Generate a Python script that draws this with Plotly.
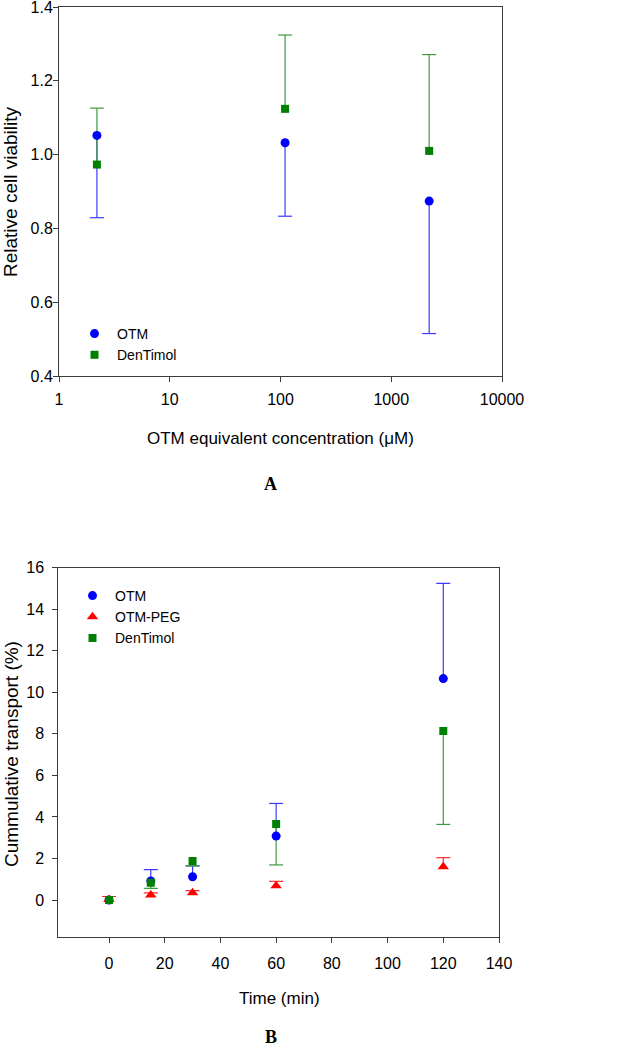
import plotly.graph_objects as go

# ---------------- Panel A data ----------------
conc = [2.2, 110, 2200]
otm_a = [1.052, 1.032, 0.874]
otm_a_err_minus = [0.223, 0.199, 0.359]
den_a = [0.973, 1.124, 1.010]
den_a_err_plus = [0.153, 0.200, 0.261]
xticks_a = [1, 10, 100, 1000, 10000]
yticks_a = [0.4, 0.6, 0.8, 1.0, 1.2, 1.4]

# ---------------- Panel B data ----------------
time_min = [0, 15, 30, 60, 120]
otm_b = [0.0, 0.92, 1.12, 3.08, 10.66]
otm_b_err_plus = [0.0, 0.54, 0.52, 1.57, 4.59]
peg_b = [0.02, 0.24, 0.35, 0.69, 1.60]
peg_b_err_plus = [0.15, 0.10, 0.10, 0.21, 0.44]
den_b = [0.0, 0.83, 1.88, 3.66, 8.14]
den_b_err_minus = [0.0, 0.27, 0.24, 1.97, 4.50]
xticks_b = [0, 20, 40, 60, 80, 100, 120, 140]
yticks_b = [0, 2, 4, 6, 8, 10, 12, 14, 16]

BLUE, GREEN, RED = "#0000ff", "#008000", "#ff0000"
BLUE_E, GREEN_E, RED_E = "#3b3bff", "#3d9a3d", "#ff2a2a"
SANS = "Liberation Sans, Arial, sans-serif"
SERIF = "Liberation Serif, Times New Roman, serif"
FRAME = "#3a3a3a"


def stems(xs, ys, errs, sign):
    lx, ly, cx, cy = [], [], [], []
    for x, y, e in zip(xs, ys, errs):
        if e <= 0:
            continue
        end = y + sign * e
        lx += [x, x, None]
        ly += [y, end, None]
        cx.append(x)
        cy.append(end)
    return lx, ly, cx, cy


fig = go.Figure()


def add_err(xs, ys, errs, sign, color, xa, ya):
    lx, ly, cx, cy = stems(xs, ys, errs, sign)
    fig.add_trace(go.Scatter(x=lx, y=ly, mode="lines", line=dict(color=color, width=1.2),
                             xaxis=xa, yaxis=ya, showlegend=False, hoverinfo="skip"))
    fig.add_trace(go.Scatter(x=cx, y=cy, mode="markers",
                             marker=dict(symbol="line-ew", size=10, line=dict(color=color, width=1.2)),
                             xaxis=xa, yaxis=ya, showlegend=False, hoverinfo="skip"))


# Panel A
add_err(conc, otm_a, otm_a_err_minus, -1, BLUE_E, "x", "y")
add_err(conc, den_a, den_a_err_plus, +1, GREEN_E, "x", "y")
fig.add_trace(go.Scatter(x=conc, y=otm_a, mode="markers", name="OTM",
                         marker=dict(symbol="circle", size=9, color=BLUE),
                         xaxis="x", yaxis="y", legend="legend"))
fig.add_trace(go.Scatter(x=conc, y=den_a, mode="markers", name="DenTimol",
                         marker=dict(symbol="square", size=8, color=GREEN),
                         xaxis="x", yaxis="y", legend="legend"))

# Panel B
add_err(time_min, otm_b, otm_b_err_plus, +1, BLUE_E, "x2", "y2")
add_err(time_min, peg_b, peg_b_err_plus, +1, RED_E, "x2", "y2")
add_err(time_min, den_b, den_b_err_minus, -1, GREEN_E, "x2", "y2")
fig.add_trace(go.Scatter(x=time_min, y=otm_b, mode="markers", name="OTM",
                         marker=dict(symbol="circle", size=9, color=BLUE),
                         xaxis="x2", yaxis="y2", legend="legend2"))
fig.add_trace(go.Scatter(x=time_min, y=peg_b, mode="markers", name="OTM-PEG",
                         marker=dict(symbol="triangle-up", size=10, color=RED),
                         xaxis="x2", yaxis="y2", legend="legend2"))
fig.add_trace(go.Scatter(x=time_min, y=den_b, mode="markers", name="DenTimol",
                         marker=dict(symbol="square", size=8, color=GREEN),
                         xaxis="x2", yaxis="y2", legend="legend2"))

W, H = 623, 1050
ax_common = dict(showline=True, mirror=True, linecolor=FRAME, linewidth=1,
                 showgrid=False, zeroline=False, ticks="outside", ticklen=5,
                 tickcolor=FRAME, tickwidth=1, automargin=False,
                 ticklabeloverflow="allow",
                 tickfont=dict(family=SANS, size=16, color="#000"))

fig.update_layout(
    template="none",
    width=W, height=H, margin=dict(l=0, r=0, t=0, b=0, pad=0, autoexpand=False),
    paper_bgcolor="white", plot_bgcolor="white",
    xaxis=dict(domain=[59 / W, 502 / W], anchor="y", type="log", range=[0, 4],
               tickvals=xticks_a, ticktext=[str(v) for v in xticks_a],
               ticklabelstandoff=4, **ax_common),
    yaxis=dict(domain=[1 - 376 / H, 1 - 7 / H], anchor="x", range=[0.4, 1.4],
               tickvals=yticks_a, tickformat=".1f", ticklabelstandoff=-3, **ax_common),
    xaxis2=dict(domain=[58.3 / W, 499 / W], anchor="y2", range=[-18.2, 140],
                tickvals=xticks_b, ticklabelstandoff=7, **ax_common),
    yaxis2=dict(domain=[1 - 937 / H, 1 - 567.7 / H], anchor="x2", range=[-1.78, 16],
                tickvals=yticks_b, ticklabelstandoff=5, **ax_common),
    legend=dict(x=72 / W, y=1 - 318 / H, xanchor="left", yanchor="top",
                bgcolor="rgba(0,0,0,0)", borderwidth=0, itemwidth=35,
                font=dict(family=SANS, size=14, color="#000"), tracegroupgap=0),
    legend2=dict(x=70 / W, y=1 - 580 / H, xanchor="left", yanchor="top",
                 bgcolor="rgba(0,0,0,0)", borderwidth=0, itemwidth=35,
                 font=dict(family=SANS, size=14, color="#000"), tracegroupgap=0),
    showlegend=True,
)

annots = [
    dict(text="OTM equivalent concentration (\u03bcM)", x=280.7 / W, y=1 - 438 / H,
         font=dict(family=SANS, size=17, color="#000")),
    dict(text="Relative cell viability", x=11 / W, y=1 - 192 / H, textangle=-90,
         font=dict(family=SANS, size=19, color="#000")),
    dict(text="<b>A</b>", x=270 / W, y=1 - 484 / H,
         font=dict(family=SERIF, size=18, color="#000")),
    dict(text="Time (min)", x=279 / W, y=1 - 998 / H,
         font=dict(family=SANS, size=17, color="#000")),
    dict(text="Cummulative transport (%)", x=11 / W, y=1 - 754 / H, textangle=-90,
         font=dict(family=SANS, size=19, color="#000")),
    dict(text="<b>B</b>", x=271 / W, y=1 - 1037 / H,
         font=dict(family=SERIF, size=18, color="#000")),
]
for a in annots:
    fig.add_annotation(xref="paper", yref="paper", xanchor="center", yanchor="middle",
                       showarrow=False, **a)

fig.write_html("out.html", config={"displayModeBar": False},
               post_script="document.body.style.margin='0px';")
